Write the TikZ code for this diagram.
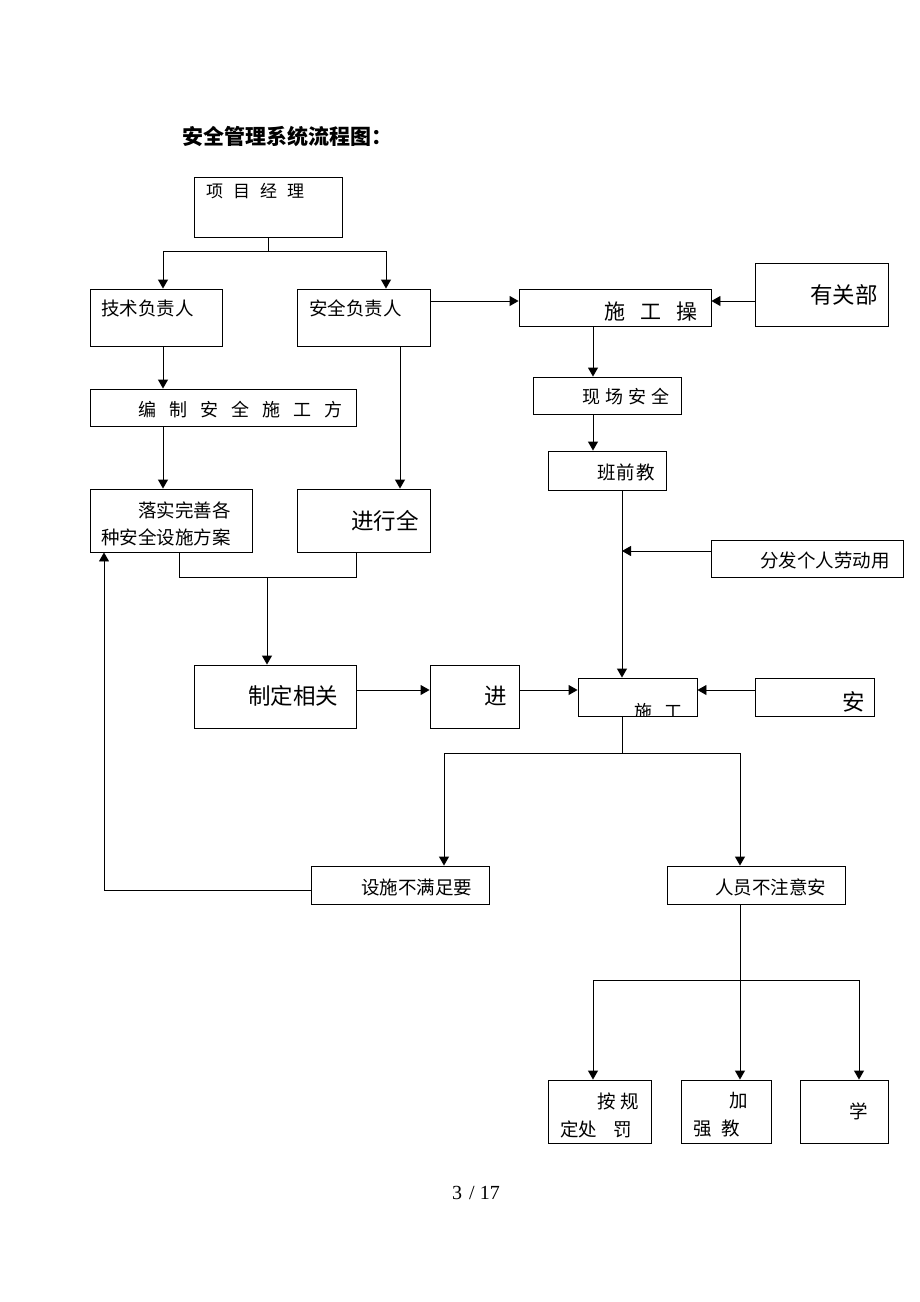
\documentclass[tikz,border=0pt]{standalone}
\usepackage{fontspec}
\setmainfont{Noto Sans CJK SC}
\newfontfamily\pagefont{Liberation Serif}
\usetikzlibrary{arrows.meta,fit}
\begin{document}
\begin{tikzpicture}[x=1pt,y=-1pt,
  box/.style={draw, line width=0.9pt, inner sep=0pt},
  arr/.style={line width=0.9pt, -{Triangle[length=9pt,width=10pt]}},
  ln/.style={line width=0.9pt},
  t/.style={anchor=west, inner sep=0pt, font=\fontsize{18.5}{21}\selectfont},
  tl/.style={anchor=west, inner sep=0pt, font=\fontsize{22.5}{25}\selectfont}]
\useasboundingbox[fill=white] (0,0) rectangle (920,1302);
% title
\node[anchor=west, inner sep=0pt, font=\fontsize{21}{23}\selectfont\bfseries] (title) at (182,136) {安全管理系统流程图：};
% boxes
\node[box, fit={(194,177) (342,237)}] (pm) {};
\node[box, fit={(90,289) (222,346)}] (tech) {};
\node[box, fit={(297,289) (430,346)}] (safe) {};
\node[box, fit={(519,289) (711,326)}] (op) {};
\node[box, fit={(755,263) (888,326)}] (dept) {};
\node[box, fit={(90,389) (356,426)}] (plan) {};
\node[box, fit={(533,377) (681,414)}] (site) {};
\node[box, fit={(548,451) (666,490)}] (pre) {};
\node[box, fit={(90,489) (252,552)}] (impl) {};
\node[box, fit={(297,489) (430,552)}] (chk) {};
\node[box, fit={(711,540) (903,577)}] (dist) {};
\node[box, fit={(194,665) (356,728)}] (rule) {};
\node[box, fit={(430,665) (519,728)}] (jin) {};
\node[box, fit={(578,678) (697,716)}] (cons) {};
\node[box, fit={(755,678) (874,716)}] (an) {};
\node[box, fit={(311,866) (489,904)}] (fac) {};
\node[box, fit={(667,866) (845,904)}] (ppl) {};
\node[box, fit={(548,1080) (651,1143)}] (pun) {};
\node[box, fit={(681,1080) (771,1143)}] (edu) {};
\node[box, fit={(800,1080) (888,1143)}] (stu) {};
% texts
\node[t, font=\fontsize{17}{19}\selectfont] (tpm) at (206,191) {项\kern10pt 目\kern10pt 经\kern10pt 理};
\node[t] (ttech) at (101,308) {技术负责人};
\node[t] (tsafe) at (309,308) {安全负责人};
\node[t, font=\fontsize{21}{23}\selectfont] (top) at (604,312) {施\kern15pt 工\kern15pt 操};
\node[tl] (tdept) at (810,295) {有关部};
\node[t, font=\fontsize{18}{20}\selectfont] (tplan) at (138,410) {编\kern13pt 制\kern13pt 安\kern13pt 全\kern13pt 施\kern13pt 工\kern13pt 方};
\node[t, font=\fontsize{18}{20}\selectfont] (tsite) at (582,397) {现\kern5pt 场\kern5pt 安\kern5pt 全};
\node[t] (tpre) at (597,472) {班\kern1pt 前\kern1pt 教};
\node[t] (timpl1) at (138,510) {落实完善各};
\node[t] (timpl2) at (101,537) {种安全设施方案};
\node[tl] (tchk) at (351,521) {进行全};
\node[t] (tdist) at (760,560) {分发个人劳动用};
\node[tl] (trule) at (248,696) {制定相关};
\node[tl] (tjin) at (484,696) {进};
\begin{scope}
  \clip (cons.south west) rectangle (cons.north east);
  \node[t, font=\fontsize{18}{20}\selectfont] (tcons) at (634,712) {施\kern12pt 工};
\end{scope}
\node[tl] (tan) at (842,702) {安};
\node[t] (tfac) at (361,887) {设施不满足要};
\node[t] (tppl) at (715,887) {人员不注意安};
\node[t] (tpun1) at (597,1101) {按\kern5pt 规};
\node[t] (tpun2) at (560,1129) {定处\kern16pt 罚};
\node[t] (tedu1) at (729,1101) {加};
\node[t] (tedu2) at (693,1129) {强\kern10pt 教};
\node[t] (tstu) at (849,1111) {学};
\node[inner sep=0pt, font=\pagefont\fontsize{20}{22}\selectfont] (page) at (476,1193) {3\hspace{7pt}/ 17};
% connector coordinates
\coordinate (j1) at (268,251);
\coordinate (a1) at (163,251);
\coordinate (a2) at (386,251);
\coordinate (xs) at (400,0);
\coordinate (yop) at (0,301);
\coordinate (x593) at (593,0);
\coordinate (x622) at (622,0);
\coordinate (ydist) at (0,551);
\coordinate (b1) at (179,577);
\coordinate (b2) at (356,577);
\coordinate (bm) at (267,577);
\coordinate (y690) at (0,690);
\coordinate (c0) at (622,753);
\coordinate (c1) at (444,753);
\coordinate (c2) at (740,753);
\coordinate (f1) at (104,890);
\coordinate (d0) at (740,980);
\coordinate (d1) at (593,980);
\coordinate (d2) at (859,980);
% connectors
\draw[ln] (pm.south) -- (j1);
\draw[ln] (a1) -- (a2);
\draw[arr] (a1) -- (a1 |- tech.north);
\draw[arr] (a2) -- (a2 |- safe.north);
\draw[arr] (a1 |- tech.south) -- (a1 |- plan.north);
\draw[arr] (a1 |- plan.south) -- (a1 |- impl.north);
\draw[arr] (safe.south -| xs) -- (chk.north -| xs);
\draw[arr] (safe.east |- yop) -- (op.west |- yop);
\draw[arr] (dept.west |- yop) -- (op.east |- yop);
\draw[arr] (op.south -| x593) -- (site.north -| x593);
\draw[arr] (site.south -| x593) -- (pre.north -| x593);
\draw[arr] (pre.south -| x622) -- (cons.north -| x622);
\draw[arr] (dist.west |- ydist) -- (x622 |- ydist);
\draw[ln] (impl.south -| b1) -- (b1) -- (b2) -- (chk.south -| b2);
\draw[arr] (bm) -- (rule.north -| bm);
\draw[arr] (rule.east |- y690) -- (jin.west |- y690);
\draw[arr] (jin.east |- y690) -- (cons.west |- y690);
\draw[arr] (an.west |- y690) -- (cons.east |- y690);
\draw[ln] (cons.south -| c0) -- (c0);
\draw[ln] (c1) -- (c2);
\draw[arr] (c1) -- (fac.north -| c1);
\draw[arr] (c2) -- (ppl.north -| c2);
\draw[arr] (fac.west |- f1) -- (f1) -- (impl.south -| f1);
\draw[arr] (ppl.south -| d0) -- (edu.north -| d0);
\draw[ln] (d1) -- (d2);
\draw[arr] (d1) -- (pun.north -| d1);
\draw[arr] (d2) -- (stu.north -| d2);
\end{tikzpicture}
\end{document}
